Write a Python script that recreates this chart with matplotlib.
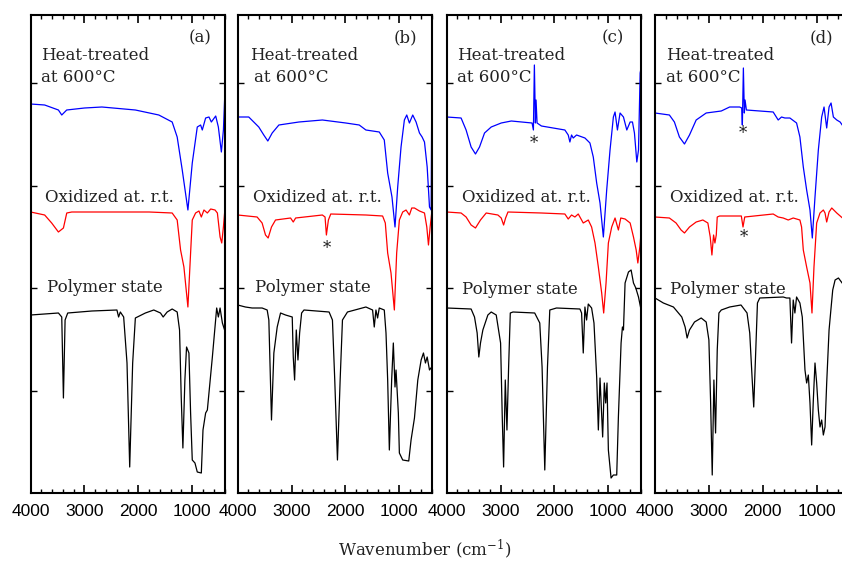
import matplotlib
matplotlib.use("Agg")
import matplotlib.pyplot as plt
from matplotlib.ticker import MultipleLocator

plt.rcParams['mathtext.fontset'] = 'dejavuserif'

# spectra: wavenumber (cm-1) and offset transmittance (arb. units)
# panel (a)
a_heat_wn = [4000, 3739, 3484, 3422, 3330, 3000, 2677, 2056, 1621, 1373, 1280, 1186, 1081, 1000,
             907, 845, 814, 752, 690, 646, 565, 516, 460, 422, 400]
a_heat_t = [389, 388, 383, 378, 383, 385, 386, 383, 378, 371, 356, 323, 283, 330,
            366, 368, 363, 375, 376, 371, 377, 366, 341, 363, 393]
a_ox_wn = [4000, 3739, 3609, 3484, 3391, 3329, 3236, 2500, 1800, 1373, 1280, 1217, 1155, 1081, 1031,
           1000, 938, 876, 832, 783, 720, 658, 578, 534, 484, 453, 422, 400]
a_ox_t = [281, 278, 270, 261, 265, 280, 281, 281, 281, 280, 273, 243, 226, 186, 240,
          273, 280, 282, 276, 283, 280, 284, 283, 280, 256, 250, 266, 280]
a_poly_wn = [4000, 3484, 3422, 3391, 3360, 3311, 2863, 2398, 2367, 2335, 2273, 2211, 2161, 2106, 2056,
             1870, 1714, 1590, 1540, 1466, 1373, 1280, 1236, 1205, 1174, 1137, 1106, 1062, 1031,
             1000, 950, 907, 832, 801, 752, 720, 627, 547, 516, 484, 441, 400]
a_poly_t = [178, 180, 176, 95, 173, 180, 182, 183, 176, 181, 176, 130, 26, 130, 175,
            180, 183, 180, 176, 181, 184, 181, 163, 96, 45, 113, 146, 140, 80,
            33, 30, 21, 20, 63, 80, 83, 136, 185, 176, 185, 170, 163]

# panel (b)
b_heat_wn = [4000, 3795, 3702, 3609, 3516, 3441, 3360, 3236, 2863, 2429, 1994, 1745, 1621, 1373, 1280,
             1217, 1137, 1081, 1031, 969, 907, 863, 814, 752, 690, 627, 578, 534, 484, 441, 410, 400]
b_heat_t = [376, 376, 371, 366, 358, 352, 360, 368, 371, 373, 370, 368, 363, 361, 353,
            320, 296, 266, 306, 346, 373, 378, 370, 378, 371, 360, 356, 351, 326, 286, 283, 383]
b_ox_wn = [4000, 3640, 3547, 3484, 3435, 3373, 3298, 3019, 2969, 2925, 2429, 2379, 2354, 2317, 2273,
           1621, 1311, 1261, 1217, 1155, 1093, 1050, 1000, 938, 876, 814, 770, 720, 627, 534,
           491, 460, 429, 400]
b_ox_t = [278, 276, 270, 258, 255, 266, 273, 275, 271, 275, 278, 276, 258, 273, 279,
          278, 277, 270, 240, 220, 183, 240, 273, 281, 283, 278, 285, 285, 282, 280,
          266, 248, 266, 280]
b_poly_wn = [4000, 3857, 3733, 3547, 3453, 3422, 3373, 3329, 3267, 3205, 3112, 2988, 2969, 2944, 2913,
             2882, 2851, 2814, 2770, 2304, 2242, 2199, 2149, 2099, 2056, 1963, 1621, 1497, 1466,
             1435, 1404, 1373, 1280, 1248, 1217, 1186, 1143, 1112, 1081, 1062, 1019, 1000, 938,
             826, 783, 720, 658, 596, 553, 516, 484, 441, 400]
b_poly_t = [188, 186, 185, 185, 183, 173, 73, 140, 166, 180, 178, 176, 136, 113, 163,
            133, 160, 180, 183, 181, 173, 113, 33, 113, 173, 181, 186, 183, 166,
            183, 175, 185, 183, 160, 113, 43, 113, 150, 106, 123, 80, 40, 33,
            32, 53, 75, 113, 133, 140, 130, 136, 123, 126]

# panel (c)
c_heat_wn = [4000, 3733, 3640, 3547, 3466, 3391, 3298, 3174, 2988, 2801, 2416, 2391, 2373, 2354, 2342,
             2323, 2242, 1807, 1745, 1714, 1683, 1652, 1590, 1435, 1342, 1280, 1217, 1155, 1093,
             1031, 969, 907, 876, 832, 783, 720, 658, 596, 553, 516, 472, 441, 410, 400]
c_heat_t = [376, 375, 363, 346, 339, 346, 360, 366, 370, 372, 370, 363, 428, 370, 393,
            370, 367, 363, 358, 351, 358, 355, 358, 355, 350, 336, 310, 290, 256,
            303, 343, 376, 381, 363, 380, 376, 363, 371, 371, 360, 331, 343, 420, 423]
c_ox_wn = [4000, 3733, 3640, 3547, 3466, 3373, 3267, 3050, 2988, 2944, 2907, 2863, 2242, 1807, 1745,
           1683, 1621, 1559, 1466, 1373, 1311, 1248, 1186, 1124, 1087, 1043, 1000, 938, 876,
           814, 770, 690, 596, 534, 484, 453, 416, 400]
c_ox_t = [281, 280, 276, 268, 265, 273, 280, 278, 275, 268, 275, 281, 280, 279, 274,
          278, 276, 279, 270, 273, 266, 250, 226, 200, 180, 210, 250, 266, 275,
          263, 275, 274, 270, 256, 243, 230, 246, 256]
c_poly_wn = [4000, 3547, 3484, 3435, 3404, 3373, 3329, 3236, 3174, 3081, 3000, 2969, 2944, 2913, 2882,
             2851, 2820, 2770, 2367, 2273, 2230, 2180, 2130, 2087, 1963, 1528, 1497, 1466, 1435,
             1404, 1373, 1311, 1267, 1217, 1186, 1155, 1106, 1075, 1050, 1025, 1000, 950, 907,
             845, 814, 764, 739, 720, 690, 627, 578, 534, 491, 441, 400]
c_poly_t = [185, 184, 176, 160, 136, 150, 163, 178, 181, 178, 150, 76, 26, 113, 63,
            126, 180, 181, 180, 170, 126, 23, 126, 183, 185, 184, 180, 140, 186,
            173, 189, 185, 170, 116, 63, 115, 56, 110, 90, 110, 43, 15, 18,
            18, 76, 150, 166, 163, 210, 221, 223, 210, 205, 196, 185]

# panel (d)
d_heat_wn = [4000, 3733, 3640, 3547, 3453, 3360, 3236, 3050, 2770, 2615, 2429, 2391, 2379, 2360, 2342,
             2329, 2304, 1807, 1714, 1652, 1590, 1497, 1373, 1311, 1248, 1186, 1124, 1081, 1031,
             969, 907, 863, 814, 770, 733, 690, 627, 565, 500]
d_heat_t = [380, 378, 371, 356, 349, 358, 373, 380, 382, 386, 386, 385, 368, 425, 380,
            393, 383, 381, 373, 376, 375, 375, 370, 356, 326, 303, 283, 255, 296,
            343, 376, 386, 365, 386, 390, 376, 373, 371, 366]
d_ox_wn = [4000, 3733, 3609, 3516, 3453, 3360, 3236, 3112, 3019, 2975, 2944, 2913, 2888, 2863, 2845,
           2801, 2398, 2367, 2335, 1807, 1714, 1621, 1528, 1435, 1311, 1280, 1248, 1186, 1124,
           1087, 1050, 1000, 938, 876, 845, 814, 770, 720, 627, 500]
d_ox_t = [276, 275, 270, 263, 260, 266, 271, 273, 270, 256, 238, 258, 250, 258, 276,
          277, 277, 266, 276, 279, 276, 275, 273, 275, 273, 266, 243, 226, 210,
          180, 226, 270, 280, 283, 280, 271, 281, 285, 280, 274]
d_poly_wn = [4000, 3845, 3658, 3503, 3441, 3404, 3360, 3267, 3143, 3050, 3000, 2969, 2938, 2907, 2876,
             2845, 2814, 2770, 2615, 2404, 2292, 2242, 2199, 2168, 2130, 2099, 2056, 1621, 1559,
             1497, 1466, 1435, 1404, 1373, 1311, 1267, 1217, 1186, 1155, 1124, 1093, 1062, 1031,
             1000, 969, 938, 907, 876, 845, 814, 770, 733, 702, 658, 596, 500]
d_poly_t = [195, 190, 186, 176, 166, 155, 163, 171, 175, 171, 153, 93, 18, 113, 60,
            143, 180, 183, 186, 188, 180, 160, 116, 86, 143, 190, 195, 196, 195,
            195, 150, 193, 180, 196, 190, 176, 123, 110, 118, 90, 48, 93, 130,
            110, 83, 66, 73, 58, 66, 110, 163, 185, 203, 213, 215, 208]

panel_tags = ['(a)', '(b)', '(c)', '(d)']
label_heat = 'Heat-treated'
label_heat2 = 'at 600°C'
label_ox = 'Oxidized at. r.t.'
label_poly = 'Polymer state'

panels = [
    (a_heat_wn, a_heat_t, a_ox_wn, a_ox_t, a_poly_wn, a_poly_t),
    (b_heat_wn, b_heat_t, b_ox_wn, b_ox_t, b_poly_wn, b_poly_t),
    (c_heat_wn, c_heat_t, c_ox_wn, c_ox_t, c_poly_wn, c_poly_t),
    (d_heat_wn, d_heat_t, d_ox_wn, d_ox_t, d_poly_wn, d_poly_t),
]

# asterisks (panel index, wavenumber, baseline level)
star_marks = [(1, 2354, 240), (2, 2373, 345), (3, 2375, 355), (3, 2350, 251)]

# layout in pixels of the 842x563 picture
W, H = 842, 563
lefts = [30.6, 237.7, 446.7, 655.0]
pw = 194.0
bottom_px, top_px = 493.0, 15.0
# text offsets (pixels from axes left, baseline px from top)
heat_dx = [10, 12, 10, 11]
heat2_dx = [10, 16, 10, 11]
ox_dx = [14, 15, 15, 15]
poly_dx = [16, 17, 15, 15]
poly_base = [292, 292, 294, 294]
tag_right = [181, 180, 177, 178]

fig = plt.figure(figsize=(W / 100, H / 100), dpi=100)
serif = 'DejaVu Serif'
txt_col = '#222222'

def fy(px_y):
    return (bottom_px - px_y) / (bottom_px - top_px)

for i, (hw, ht, ow, ot, pwn, pt) in enumerate(panels):
    ax = fig.add_axes([lefts[i] / W, (H - bottom_px) / H, pw / W, (bottom_px - top_px) / H])
    ax.plot(pwn, pt, color='black', lw=0.9)
    ax.plot(ow, ot, color='red', lw=0.9)
    ax.plot(hw, ht, color='blue', lw=0.9)
    ax.set_xlim(4000, 400)
    ax.set_ylim(0, 478)
    ax.set_xticks([4000, 3000, 2000, 1000])
    ax.xaxis.set_minor_locator(MultipleLocator(200))
    ax.set_yticks([102.5, 205, 307.5, 410])
    ax.set_yticklabels([])
    ax.tick_params(axis='x', which='major', direction='in', top=True, length=6, width=1.2,
                   labelsize=12.5, pad=8)
    ax.tick_params(axis='x', which='minor', direction='in', top=True, length=3, width=1.0)
    ax.tick_params(axis='y', direction='in', right=True, length=4, width=1.0)
    for lab in ax.get_xticklabels():
        lab.set_fontfamily('Liberation Sans')
    for s in ax.spines.values():
        s.set_linewidth(1.5)

    tr = ax.transAxes
    ax.text(heat_dx[i] / pw, fy(60), label_heat, transform=tr, family=serif, fontsize=12,
            va='baseline', ha='left', color=txt_col)
    ax.text(heat2_dx[i] / pw, fy(82), label_heat2, transform=tr, family=serif, fontsize=12,
            va='baseline', ha='left', color=txt_col)
    ax.text(ox_dx[i] / pw, fy(202), label_ox, transform=tr, family=serif, fontsize=12,
            va='baseline', ha='left', color=txt_col)
    ax.text(poly_dx[i] / pw, fy(poly_base[i]), label_poly, transform=tr, family=serif, fontsize=12,
            va='baseline', ha='left', color=txt_col)
    ax.text(tag_right[i] / pw, fy(42), panel_tags[i], transform=tr, family=serif, fontsize=12,
            va='baseline', ha='right', color=txt_col)

    for (k, wn, lv) in star_marks:
        if k == i:
            ax.text(wn, lv, '*', family=serif, fontsize=12, ha='center', va='baseline', color=txt_col)

fig.text(425 / W, (H - 549) / H, r'Wavenumber (cm$^{-1}$)', family=serif, fontsize=12,
         ha='center', va='center', color=txt_col)

fig.savefig('out.png', dpi=100)
